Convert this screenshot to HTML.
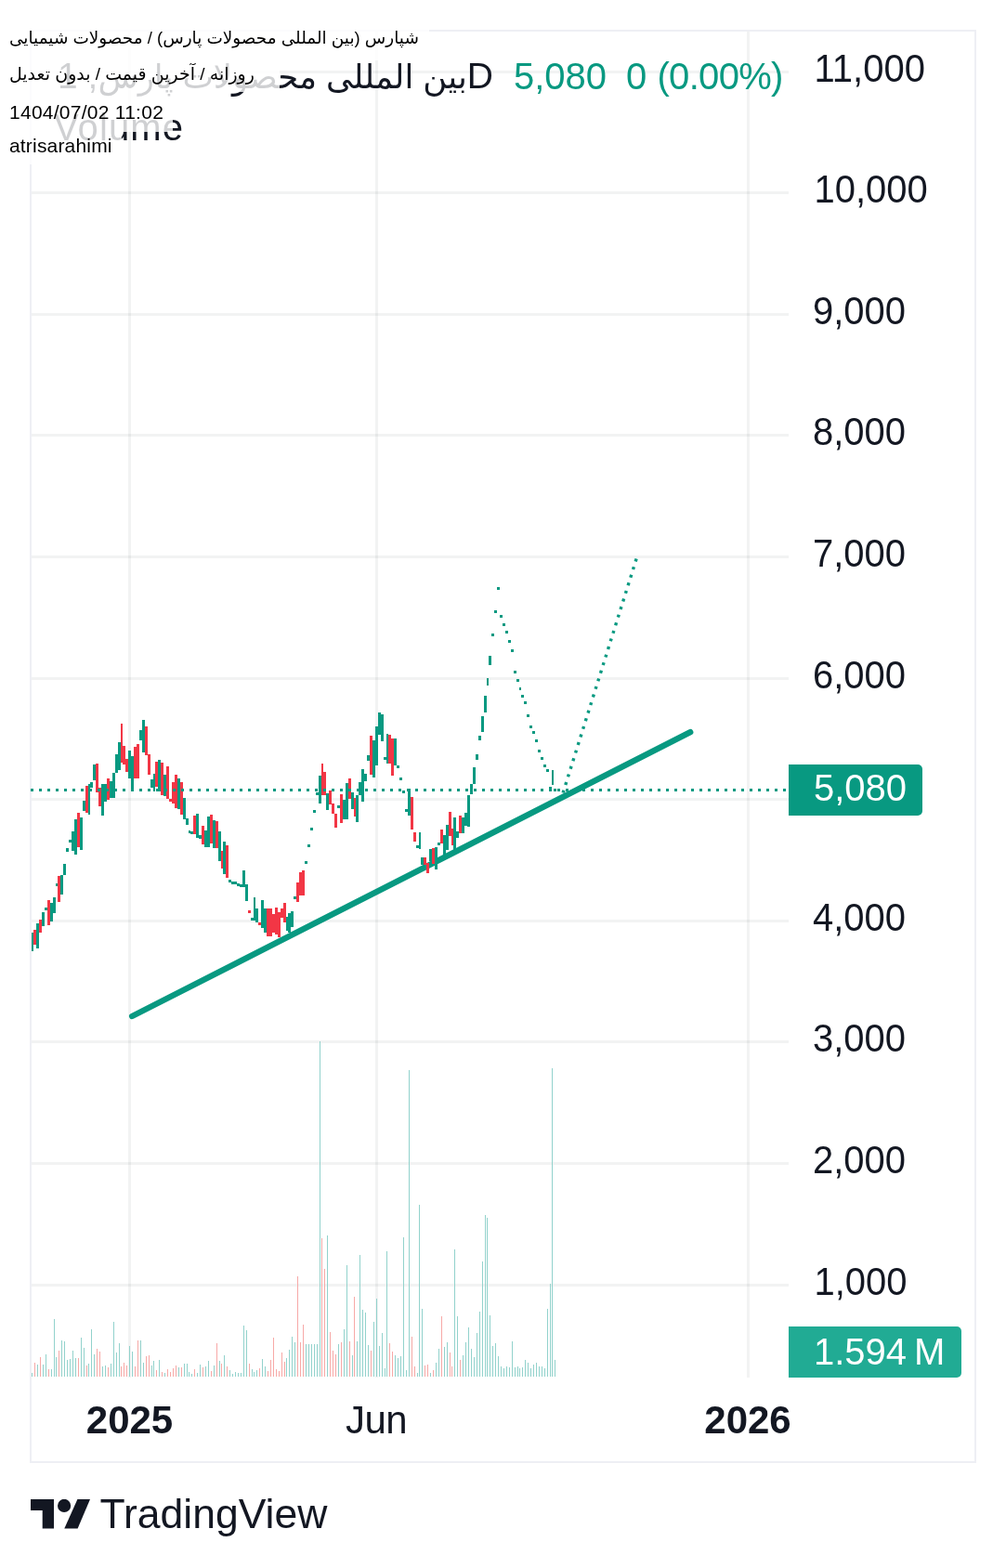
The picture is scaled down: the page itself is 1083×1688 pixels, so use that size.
<!DOCTYPE html>
<html lang="fa">
<head>
<meta charset="utf-8">
<title>TradingView chart</title>
<style>
html,body{margin:0;padding:0;background:#fff;}
body{width:1083px;height:1688px;position:relative;overflow:hidden;font-family:"Liberation Sans","DejaVu Sans",sans-serif;color:#131722;}
#frame{position:absolute;left:32px;top:32px;width:1015px;height:1539px;border:2px solid #eeeff4;}
svg{position:absolute;left:0;top:0;}
.pl{position:absolute;left:875px;font-size:40px;line-height:50px;letter-spacing:0px;white-space:nowrap;transform:scaleY(1.04);transform-origin:0 38.9px;}
.tl{position:absolute;top:1503.8px;font-size:42px;letter-spacing:-0.6px;line-height:50px;white-space:nowrap;transform:translateX(-50%);}
.b{font-weight:bold;font-size:42px;letter-spacing:0;}
.ar{font-size:35.5px;}
#title{position:absolute;left:62px;top:56px;font-size:39px;line-height:52px;white-space:nowrap;direction:ltr;}
#vol{position:absolute;left:58px;top:111px;font-size:40px;line-height:52px;letter-spacing:1.1px;white-space:nowrap;}
.q{position:absolute;top:56px;font-size:40px;line-height:52px;white-space:pre;color:#089981;}
#ptag{position:absolute;left:849px;top:823px;width:144px;height:55px;background:#089981;border-radius:0 5px 5px 0;color:#fff;font-size:40px;line-height:51px;letter-spacing:0;}
#ptag span{position:absolute;left:27px;top:0;}
#vtag{position:absolute;left:849px;top:1428px;width:186px;height:55px;background:#21ab94;border-radius:0 5px 5px 0;color:#fff;font-size:40px;line-height:55px;letter-spacing:0;}
#vtag span{position:absolute;left:27px;top:0;white-space:nowrap;}
.ov{position:absolute;left:0;background:rgba(255,255,255,0.8);color:#000;font-size:21px;white-space:nowrap;padding-left:10px;box-sizing:border-box;}
#logo{position:absolute;left:33px;top:1614px;}
#brand{position:absolute;left:107.5px;top:1605.2px;font-size:44.5px;line-height:50px;letter-spacing:0px;white-space:nowrap;}
</style>
</head>
<body>
<div id="frame"></div>
<svg width="1083" height="1688" viewBox="0 0 1083 1688">
<g shape-rendering="crispEdges">
<rect x="34" y="1382" width="815" height="3" fill="rgba(42,46,57,0.06)"/>
<rect x="34" y="1251" width="815" height="3" fill="rgba(42,46,57,0.06)"/>
<rect x="34" y="1120" width="815" height="3" fill="rgba(42,46,57,0.06)"/>
<rect x="34" y="990" width="815" height="3" fill="rgba(42,46,57,0.06)"/>
<rect x="34" y="859" width="815" height="3" fill="rgba(42,46,57,0.06)"/>
<rect x="34" y="729" width="815" height="3" fill="rgba(42,46,57,0.06)"/>
<rect x="34" y="598" width="815" height="3" fill="rgba(42,46,57,0.06)"/>
<rect x="34" y="467" width="815" height="3" fill="rgba(42,46,57,0.06)"/>
<rect x="34" y="337" width="815" height="3" fill="rgba(42,46,57,0.06)"/>
<rect x="34" y="206" width="815" height="3" fill="rgba(42,46,57,0.06)"/>
<rect x="34" y="76" width="815" height="3" fill="rgba(42,46,57,0.06)"/>
<rect x="138" y="34" width="3" height="1449" fill="rgba(42,46,57,0.06)"/>
<rect x="404" y="34" width="3" height="1449" fill="rgba(42,46,57,0.06)"/>
<rect x="804" y="34" width="3" height="1449" fill="rgba(42,46,57,0.06)"/>
<rect x="34" y="1478" width="1" height="4" fill="#92d2cc"/>
<rect x="37" y="1467" width="1" height="15" fill="#f7a9a7"/>
<rect x="40" y="1469" width="1" height="13" fill="#92d2cc"/>
<rect x="43" y="1461" width="1" height="21" fill="#f7a9a7"/>
<rect x="46" y="1469" width="1" height="13" fill="#92d2cc"/>
<rect x="49" y="1458" width="1" height="24" fill="#92d2cc"/>
<rect x="52" y="1474" width="1" height="8" fill="#f7a9a7"/>
<rect x="55" y="1474" width="1" height="8" fill="#92d2cc"/>
<rect x="58" y="1420" width="1" height="62" fill="#92d2cc"/>
<rect x="60" y="1461" width="1" height="21" fill="#92d2cc"/>
<rect x="63" y="1454" width="1" height="28" fill="#f7a9a7"/>
<rect x="66" y="1443" width="1" height="39" fill="#92d2cc"/>
<rect x="69" y="1444" width="1" height="38" fill="#92d2cc"/>
<rect x="72" y="1464" width="1" height="18" fill="#92d2cc"/>
<rect x="75" y="1463" width="1" height="19" fill="#92d2cc"/>
<rect x="78" y="1454" width="1" height="28" fill="#92d2cc"/>
<rect x="81" y="1462" width="1" height="20" fill="#92d2cc"/>
<rect x="84" y="1462" width="1" height="20" fill="#f7a9a7"/>
<rect x="87" y="1440" width="1" height="42" fill="#92d2cc"/>
<rect x="90" y="1451" width="1" height="31" fill="#92d2cc"/>
<rect x="93" y="1470" width="1" height="12" fill="#f7a9a7"/>
<rect x="95" y="1468" width="1" height="14" fill="#92d2cc"/>
<rect x="98" y="1431" width="1" height="51" fill="#92d2cc"/>
<rect x="101" y="1458" width="1" height="24" fill="#92d2cc"/>
<rect x="104" y="1452" width="1" height="30" fill="#f7a9a7"/>
<rect x="107" y="1455" width="1" height="27" fill="#f7a9a7"/>
<rect x="110" y="1471" width="1" height="11" fill="#92d2cc"/>
<rect x="113" y="1470" width="1" height="12" fill="#92d2cc"/>
<rect x="116" y="1472" width="1" height="10" fill="#f7a9a7"/>
<rect x="119" y="1468" width="1" height="14" fill="#92d2cc"/>
<rect x="122" y="1423" width="1" height="59" fill="#92d2cc"/>
<rect x="125" y="1456" width="1" height="26" fill="#92d2cc"/>
<rect x="128" y="1446" width="1" height="36" fill="#92d2cc"/>
<rect x="130" y="1471" width="1" height="11" fill="#f7a9a7"/>
<rect x="133" y="1467" width="1" height="15" fill="#f7a9a7"/>
<rect x="136" y="1470" width="1" height="12" fill="#f7a9a7"/>
<rect x="139" y="1449" width="1" height="33" fill="#92d2cc"/>
<rect x="142" y="1455" width="1" height="27" fill="#92d2cc"/>
<rect x="145" y="1471" width="1" height="11" fill="#f7a9a7"/>
<rect x="148" y="1443" width="1" height="39" fill="#f7a9a7"/>
<rect x="151" y="1443" width="1" height="39" fill="#92d2cc"/>
<rect x="154" y="1467" width="1" height="15" fill="#92d2cc"/>
<rect x="157" y="1460" width="1" height="22" fill="#f7a9a7"/>
<rect x="160" y="1459" width="1" height="23" fill="#f7a9a7"/>
<rect x="163" y="1470" width="1" height="12" fill="#92d2cc"/>
<rect x="165" y="1465" width="1" height="17" fill="#92d2cc"/>
<rect x="168" y="1475" width="1" height="7" fill="#f7a9a7"/>
<rect x="171" y="1464" width="1" height="18" fill="#92d2cc"/>
<rect x="174" y="1477" width="1" height="5" fill="#f7a9a7"/>
<rect x="177" y="1478" width="1" height="4" fill="#92d2cc"/>
<rect x="180" y="1474" width="1" height="8" fill="#f7a9a7"/>
<rect x="183" y="1477" width="1" height="5" fill="#f7a9a7"/>
<rect x="186" y="1473" width="1" height="9" fill="#f7a9a7"/>
<rect x="189" y="1470" width="1" height="12" fill="#f7a9a7"/>
<rect x="192" y="1472" width="1" height="10" fill="#92d2cc"/>
<rect x="195" y="1472" width="1" height="10" fill="#f7a9a7"/>
<rect x="198" y="1468" width="1" height="14" fill="#92d2cc"/>
<rect x="201" y="1468" width="1" height="14" fill="#92d2cc"/>
<rect x="203" y="1477" width="1" height="5" fill="#92d2cc"/>
<rect x="206" y="1479" width="1" height="3" fill="#92d2cc"/>
<rect x="209" y="1474" width="1" height="8" fill="#f7a9a7"/>
<rect x="212" y="1478" width="1" height="4" fill="#92d2cc"/>
<rect x="215" y="1469" width="1" height="13" fill="#92d2cc"/>
<rect x="218" y="1472" width="1" height="10" fill="#f7a9a7"/>
<rect x="221" y="1471" width="1" height="11" fill="#92d2cc"/>
<rect x="224" y="1465" width="1" height="17" fill="#92d2cc"/>
<rect x="227" y="1476" width="1" height="6" fill="#f7a9a7"/>
<rect x="230" y="1470" width="1" height="12" fill="#92d2cc"/>
<rect x="233" y="1446" width="1" height="36" fill="#f7a9a7"/>
<rect x="236" y="1465" width="1" height="17" fill="#92d2cc"/>
<rect x="238" y="1468" width="1" height="14" fill="#f7a9a7"/>
<rect x="241" y="1459" width="1" height="23" fill="#92d2cc"/>
<rect x="244" y="1471" width="1" height="11" fill="#f7a9a7"/>
<rect x="247" y="1475" width="1" height="7" fill="#92d2cc"/>
<rect x="250" y="1479" width="1" height="3" fill="#92d2cc"/>
<rect x="253" y="1477" width="1" height="5" fill="#92d2cc"/>
<rect x="256" y="1478" width="1" height="4" fill="#92d2cc"/>
<rect x="259" y="1478" width="1" height="4" fill="#92d2cc"/>
<rect x="262" y="1427" width="1" height="55" fill="#92d2cc"/>
<rect x="265" y="1432" width="1" height="50" fill="#92d2cc"/>
<rect x="268" y="1468" width="1" height="14" fill="#f7a9a7"/>
<rect x="271" y="1474" width="1" height="8" fill="#92d2cc"/>
<rect x="273" y="1477" width="1" height="5" fill="#92d2cc"/>
<rect x="276" y="1475" width="1" height="7" fill="#92d2cc"/>
<rect x="279" y="1473" width="1" height="9" fill="#f7a9a7"/>
<rect x="282" y="1463" width="1" height="19" fill="#92d2cc"/>
<rect x="285" y="1471" width="1" height="11" fill="#92d2cc"/>
<rect x="288" y="1476" width="1" height="6" fill="#f7a9a7"/>
<rect x="291" y="1464" width="1" height="18" fill="#f7a9a7"/>
<rect x="294" y="1440" width="1" height="42" fill="#f7a9a7"/>
<rect x="297" y="1474" width="1" height="8" fill="#f7a9a7"/>
<rect x="300" y="1476" width="1" height="6" fill="#f7a9a7"/>
<rect x="303" y="1456" width="1" height="26" fill="#f7a9a7"/>
<rect x="306" y="1466" width="1" height="16" fill="#f7a9a7"/>
<rect x="308" y="1462" width="1" height="20" fill="#92d2cc"/>
<rect x="311" y="1453" width="1" height="29" fill="#92d2cc"/>
<rect x="314" y="1439" width="1" height="43" fill="#92d2cc"/>
<rect x="317" y="1445" width="1" height="37" fill="#92d2cc"/>
<rect x="320" y="1374" width="1" height="108" fill="#f7a9a7"/>
<rect x="323" y="1445" width="1" height="37" fill="#f7a9a7"/>
<rect x="326" y="1426" width="1" height="56" fill="#f7a9a7"/>
<rect x="329" y="1447" width="1" height="35" fill="#92d2cc"/>
<rect x="332" y="1447" width="1" height="35" fill="#92d2cc"/>
<rect x="335" y="1447" width="1" height="35" fill="#92d2cc"/>
<rect x="338" y="1447" width="1" height="35" fill="#92d2cc"/>
<rect x="341" y="1447" width="1" height="35" fill="#92d2cc"/>
<rect x="344" y="1121" width="1" height="361" fill="#92d2cc"/>
<rect x="346" y="1333" width="1" height="149" fill="#f7a9a7"/>
<rect x="349" y="1366" width="1" height="116" fill="#f7a9a7"/>
<rect x="352" y="1330" width="1" height="152" fill="#92d2cc"/>
<rect x="355" y="1434" width="1" height="48" fill="#f7a9a7"/>
<rect x="358" y="1454" width="1" height="28" fill="#f7a9a7"/>
<rect x="361" y="1458" width="1" height="24" fill="#f7a9a7"/>
<rect x="364" y="1447" width="1" height="35" fill="#92d2cc"/>
<rect x="367" y="1445" width="1" height="37" fill="#f7a9a7"/>
<rect x="370" y="1431" width="1" height="51" fill="#92d2cc"/>
<rect x="373" y="1362" width="1" height="120" fill="#92d2cc"/>
<rect x="376" y="1444" width="1" height="38" fill="#f7a9a7"/>
<rect x="379" y="1459" width="1" height="23" fill="#92d2cc"/>
<rect x="381" y="1396" width="1" height="86" fill="#f7a9a7"/>
<rect x="384" y="1444" width="1" height="38" fill="#92d2cc"/>
<rect x="387" y="1351" width="1" height="131" fill="#92d2cc"/>
<rect x="390" y="1410" width="1" height="72" fill="#92d2cc"/>
<rect x="393" y="1413" width="1" height="69" fill="#92d2cc"/>
<rect x="396" y="1448" width="1" height="34" fill="#92d2cc"/>
<rect x="399" y="1454" width="1" height="28" fill="#f7a9a7"/>
<rect x="402" y="1423" width="1" height="59" fill="#92d2cc"/>
<rect x="405" y="1398" width="1" height="84" fill="#92d2cc"/>
<rect x="408" y="1449" width="1" height="33" fill="#92d2cc"/>
<rect x="411" y="1435" width="1" height="47" fill="#92d2cc"/>
<rect x="414" y="1473" width="1" height="9" fill="#92d2cc"/>
<rect x="416" y="1347" width="1" height="135" fill="#92d2cc"/>
<rect x="419" y="1446" width="1" height="36" fill="#f7a9a7"/>
<rect x="422" y="1455" width="1" height="27" fill="#f7a9a7"/>
<rect x="425" y="1459" width="1" height="23" fill="#92d2cc"/>
<rect x="428" y="1462" width="1" height="20" fill="#92d2cc"/>
<rect x="431" y="1460" width="1" height="22" fill="#92d2cc"/>
<rect x="434" y="1332" width="1" height="150" fill="#92d2cc"/>
<rect x="437" y="1475" width="1" height="7" fill="#92d2cc"/>
<rect x="440" y="1152" width="1" height="330" fill="#92d2cc"/>
<rect x="443" y="1439" width="1" height="43" fill="#f7a9a7"/>
<rect x="446" y="1471" width="1" height="11" fill="#f7a9a7"/>
<rect x="449" y="1478" width="1" height="4" fill="#92d2cc"/>
<rect x="451" y="1297" width="1" height="185" fill="#92d2cc"/>
<rect x="454" y="1409" width="1" height="73" fill="#92d2cc"/>
<rect x="457" y="1470" width="1" height="12" fill="#f7a9a7"/>
<rect x="460" y="1469" width="1" height="13" fill="#f7a9a7"/>
<rect x="463" y="1478" width="1" height="4" fill="#92d2cc"/>
<rect x="466" y="1475" width="1" height="7" fill="#f7a9a7"/>
<rect x="469" y="1467" width="1" height="15" fill="#92d2cc"/>
<rect x="472" y="1452" width="1" height="30" fill="#92d2cc"/>
<rect x="475" y="1417" width="1" height="65" fill="#f7a9a7"/>
<rect x="478" y="1450" width="1" height="32" fill="#92d2cc"/>
<rect x="481" y="1445" width="1" height="37" fill="#92d2cc"/>
<rect x="484" y="1456" width="1" height="26" fill="#f7a9a7"/>
<rect x="486" y="1471" width="1" height="11" fill="#f7a9a7"/>
<rect x="489" y="1345" width="1" height="137" fill="#92d2cc"/>
<rect x="492" y="1417" width="1" height="65" fill="#92d2cc"/>
<rect x="495" y="1464" width="1" height="18" fill="#f7a9a7"/>
<rect x="498" y="1459" width="1" height="23" fill="#92d2cc"/>
<rect x="501" y="1445" width="1" height="37" fill="#92d2cc"/>
<rect x="504" y="1429" width="1" height="53" fill="#92d2cc"/>
<rect x="507" y="1452" width="1" height="30" fill="#92d2cc"/>
<rect x="510" y="1461" width="1" height="21" fill="#92d2cc"/>
<rect x="513" y="1435" width="1" height="47" fill="#92d2cc"/>
<rect x="516" y="1412" width="1" height="70" fill="#92d2cc"/>
<rect x="519" y="1358" width="1" height="124" fill="#92d2cc"/>
<rect x="522" y="1308" width="1" height="174" fill="#92d2cc"/>
<rect x="524" y="1311" width="1" height="171" fill="#92d2cc"/>
<rect x="527" y="1416" width="1" height="66" fill="#92d2cc"/>
<rect x="530" y="1449" width="1" height="33" fill="#92d2cc"/>
<rect x="533" y="1446" width="1" height="36" fill="#92d2cc"/>
<rect x="536" y="1460" width="1" height="22" fill="#92d2cc"/>
<rect x="539" y="1471" width="1" height="11" fill="#92d2cc"/>
<rect x="542" y="1473" width="1" height="9" fill="#92d2cc"/>
<rect x="545" y="1471" width="1" height="11" fill="#92d2cc"/>
<rect x="548" y="1472" width="1" height="10" fill="#92d2cc"/>
<rect x="551" y="1444" width="1" height="38" fill="#92d2cc"/>
<rect x="554" y="1472" width="1" height="10" fill="#92d2cc"/>
<rect x="557" y="1471" width="1" height="11" fill="#92d2cc"/>
<rect x="559" y="1473" width="1" height="9" fill="#92d2cc"/>
<rect x="562" y="1472" width="1" height="10" fill="#92d2cc"/>
<rect x="565" y="1464" width="1" height="18" fill="#92d2cc"/>
<rect x="568" y="1467" width="1" height="15" fill="#92d2cc"/>
<rect x="571" y="1473" width="1" height="9" fill="#92d2cc"/>
<rect x="574" y="1469" width="1" height="13" fill="#92d2cc"/>
<rect x="577" y="1467" width="1" height="15" fill="#92d2cc"/>
<rect x="580" y="1471" width="1" height="11" fill="#92d2cc"/>
<rect x="583" y="1471" width="1" height="11" fill="#92d2cc"/>
<rect x="586" y="1473" width="1" height="9" fill="#92d2cc"/>
<rect x="589" y="1409" width="1" height="73" fill="#92d2cc"/>
<rect x="592" y="1382" width="1" height="100" fill="#92d2cc"/>
<rect x="594" y="1150" width="1" height="332" fill="#92d2cc"/>
<rect x="597" y="1464" width="1" height="18" fill="#92d2cc"/>
</g>
<g>
<line x1="142.2" y1="1094" x2="743.2" y2="788.1" stroke="#089981" stroke-width="6.4" stroke-linecap="round"/>
<line x1="606.1" y1="853.5" x2="685.1" y2="601.6" stroke="#089981" stroke-width="3.4" stroke-dasharray="3 6"/>
</g>
<g shape-rendering="crispEdges">
<rect x="34" y="1004" width="2" height="20" fill="#089981"/>
<rect x="36" y="1001" width="3" height="16" fill="#f23645"/>
<rect x="39" y="994" width="3" height="27" fill="#089981"/>
<rect x="42" y="990" width="3" height="14" fill="#f23645"/>
<rect x="45" y="982" width="3" height="15" fill="#089981"/>
<rect x="48" y="977" width="3" height="3" fill="#089981"/>
<rect x="51" y="969" width="3" height="27" fill="#f23645"/>
<rect x="54" y="972" width="3" height="20" fill="#089981"/>
<rect x="57" y="966" width="3" height="17" fill="#089981"/>
<rect x="60" y="951" width="2" height="3" fill="#089981"/>
<rect x="62" y="943" width="3" height="28" fill="#f23645"/>
<rect x="65" y="942" width="3" height="21" fill="#089981"/>
<rect x="68" y="930" width="3" height="12" fill="#089981"/>
<rect x="71" y="913" width="3" height="4" fill="#089981"/>
<rect x="74" y="904" width="3" height="3" fill="#089981"/>
<rect x="77" y="895" width="3" height="21" fill="#089981"/>
<rect x="80" y="882" width="3" height="38" fill="#089981"/>
<rect x="83" y="875" width="3" height="37" fill="#f23645"/>
<rect x="86" y="880" width="3" height="35" fill="#089981"/>
<rect x="89" y="862" width="3" height="11" fill="#089981"/>
<rect x="92" y="846" width="3" height="29" fill="#f23645"/>
<rect x="95" y="844" width="2" height="33" fill="#089981"/>
<rect x="97" y="842" width="3" height="6" fill="#089981"/>
<rect x="100" y="823" width="3" height="17" fill="#089981"/>
<rect x="103" y="822" width="3" height="31" fill="#f23645"/>
<rect x="106" y="848" width="3" height="20" fill="#f23645"/>
<rect x="109" y="844" width="3" height="34" fill="#089981"/>
<rect x="112" y="844" width="3" height="19" fill="#089981"/>
<rect x="115" y="838" width="3" height="23" fill="#f23645"/>
<rect x="118" y="841" width="3" height="18" fill="#089981"/>
<rect x="121" y="832" width="3" height="27" fill="#089981"/>
<rect x="124" y="812" width="3" height="20" fill="#089981"/>
<rect x="127" y="799" width="3" height="30" fill="#089981"/>
<rect x="130" y="779" width="2" height="42" fill="#f23645"/>
<rect x="132" y="803" width="3" height="20" fill="#f23645"/>
<rect x="135" y="817" width="3" height="14" fill="#f23645"/>
<rect x="138" y="808" width="3" height="30" fill="#089981"/>
<rect x="141" y="814" width="3" height="38" fill="#089981"/>
<rect x="144" y="804" width="3" height="34" fill="#f23645"/>
<rect x="147" y="801" width="3" height="37" fill="#f23645"/>
<rect x="150" y="786" width="3" height="11" fill="#089981"/>
<rect x="153" y="775" width="3" height="35" fill="#089981"/>
<rect x="156" y="782" width="3" height="31" fill="#f23645"/>
<rect x="159" y="812" width="3" height="22" fill="#f23645"/>
<rect x="162" y="839" width="3" height="9" fill="#089981"/>
<rect x="165" y="833" width="2" height="19" fill="#089981"/>
<rect x="167" y="820" width="3" height="27" fill="#f23645"/>
<rect x="170" y="818" width="3" height="34" fill="#089981"/>
<rect x="173" y="821" width="3" height="35" fill="#f23645"/>
<rect x="176" y="834" width="3" height="23" fill="#089981"/>
<rect x="179" y="825" width="3" height="35" fill="#f23645"/>
<rect x="182" y="860" width="3" height="3" fill="#f23645"/>
<rect x="185" y="842" width="3" height="23" fill="#f23645"/>
<rect x="188" y="834" width="3" height="36" fill="#f23645"/>
<rect x="191" y="838" width="3" height="33" fill="#089981"/>
<rect x="194" y="842" width="3" height="35" fill="#f23645"/>
<rect x="197" y="859" width="3" height="23" fill="#089981"/>
<rect x="200" y="881" width="3" height="7" fill="#089981"/>
<rect x="203" y="894" width="2" height="3" fill="#089981"/>
<rect x="205" y="895" width="3" height="3" fill="#089981"/>
<rect x="208" y="878" width="3" height="20" fill="#f23645"/>
<rect x="211" y="876" width="3" height="26" fill="#089981"/>
<rect x="214" y="899" width="3" height="4" fill="#089981"/>
<rect x="217" y="889" width="3" height="20" fill="#f23645"/>
<rect x="220" y="894" width="3" height="18" fill="#089981"/>
<rect x="223" y="879" width="3" height="33" fill="#089981"/>
<rect x="226" y="877" width="3" height="31" fill="#f23645"/>
<rect x="229" y="883" width="3" height="30" fill="#089981"/>
<rect x="232" y="884" width="3" height="29" fill="#f23645"/>
<rect x="235" y="895" width="3" height="32" fill="#089981"/>
<rect x="238" y="916" width="2" height="19" fill="#f23645"/>
<rect x="240" y="906" width="3" height="35" fill="#089981"/>
<rect x="243" y="910" width="3" height="35" fill="#f23645"/>
<rect x="246" y="947" width="3" height="3" fill="#089981"/>
<rect x="249" y="949" width="3" height="3" fill="#089981"/>
<rect x="252" y="949" width="3" height="3" fill="#089981"/>
<rect x="255" y="951" width="3" height="3" fill="#089981"/>
<rect x="258" y="952" width="3" height="3" fill="#089981"/>
<rect x="261" y="937" width="3" height="18" fill="#089981"/>
<rect x="264" y="952" width="3" height="18" fill="#089981"/>
<rect x="267" y="980" width="3" height="3" fill="#f23645"/>
<rect x="270" y="988" width="3" height="3" fill="#089981"/>
<rect x="273" y="966" width="2" height="25" fill="#089981"/>
<rect x="275" y="978" width="3" height="15" fill="#089981"/>
<rect x="278" y="993" width="3" height="3" fill="#f23645"/>
<rect x="281" y="969" width="3" height="30" fill="#089981"/>
<rect x="284" y="978" width="3" height="26" fill="#089981"/>
<rect x="287" y="978" width="3" height="30" fill="#f23645"/>
<rect x="290" y="978" width="3" height="30" fill="#f23645"/>
<rect x="293" y="984" width="3" height="20" fill="#f23645"/>
<rect x="296" y="977" width="3" height="29" fill="#f23645"/>
<rect x="299" y="982" width="3" height="27" fill="#f23645"/>
<rect x="302" y="978" width="3" height="10" fill="#f23645"/>
<rect x="305" y="972" width="3" height="21" fill="#f23645"/>
<rect x="308" y="987" width="2" height="15" fill="#089981"/>
<rect x="310" y="983" width="3" height="21" fill="#089981"/>
<rect x="313" y="981" width="3" height="17" fill="#089981"/>
<rect x="316" y="965" width="3" height="3" fill="#089981"/>
<rect x="319" y="950" width="3" height="21" fill="#f23645"/>
<rect x="322" y="939" width="3" height="25" fill="#f23645"/>
<rect x="325" y="937" width="3" height="27" fill="#f23645"/>
<rect x="328" y="927" width="3" height="3" fill="#089981"/>
<rect x="331" y="909" width="3" height="3" fill="#089981"/>
<rect x="334" y="891" width="3" height="3" fill="#089981"/>
<rect x="337" y="872" width="3" height="3" fill="#089981"/>
<rect x="340" y="853" width="3" height="3" fill="#089981"/>
<rect x="343" y="835" width="3" height="30" fill="#089981"/>
<rect x="346" y="822" width="2" height="34" fill="#f23645"/>
<rect x="348" y="831" width="3" height="25" fill="#f23645"/>
<rect x="351" y="854" width="3" height="18" fill="#089981"/>
<rect x="354" y="851" width="3" height="15" fill="#f23645"/>
<rect x="357" y="865" width="3" height="11" fill="#f23645"/>
<rect x="360" y="876" width="3" height="15" fill="#f23645"/>
<rect x="363" y="867" width="3" height="3" fill="#089981"/>
<rect x="366" y="855" width="3" height="31" fill="#f23645"/>
<rect x="369" y="861" width="3" height="21" fill="#089981"/>
<rect x="372" y="843" width="3" height="39" fill="#089981"/>
<rect x="375" y="838" width="3" height="22" fill="#f23645"/>
<rect x="378" y="853" width="3" height="18" fill="#089981"/>
<rect x="381" y="859" width="2" height="20" fill="#f23645"/>
<rect x="383" y="856" width="3" height="29" fill="#089981"/>
<rect x="386" y="842" width="3" height="14" fill="#089981"/>
<rect x="389" y="828" width="3" height="35" fill="#089981"/>
<rect x="392" y="833" width="3" height="8" fill="#089981"/>
<rect x="395" y="813" width="3" height="6" fill="#089981"/>
<rect x="398" y="792" width="3" height="42" fill="#f23645"/>
<rect x="401" y="797" width="3" height="40" fill="#089981"/>
<rect x="404" y="782" width="3" height="42" fill="#089981"/>
<rect x="407" y="767" width="3" height="24" fill="#089981"/>
<rect x="410" y="769" width="3" height="29" fill="#089981"/>
<rect x="413" y="815" width="3" height="3" fill="#089981"/>
<rect x="416" y="790" width="2" height="32" fill="#089981"/>
<rect x="418" y="791" width="3" height="31" fill="#f23645"/>
<rect x="421" y="795" width="3" height="40" fill="#f23645"/>
<rect x="424" y="795" width="3" height="29" fill="#089981"/>
<rect x="427" y="824" width="3" height="3" fill="#089981"/>
<rect x="430" y="837" width="3" height="3" fill="#089981"/>
<rect x="433" y="851" width="3" height="3" fill="#089981"/>
<rect x="436" y="871" width="3" height="3" fill="#089981"/>
<rect x="439" y="849" width="3" height="29" fill="#089981"/>
<rect x="442" y="858" width="3" height="35" fill="#f23645"/>
<rect x="445" y="896" width="3" height="10" fill="#f23645"/>
<rect x="448" y="910" width="3" height="3" fill="#089981"/>
<rect x="451" y="896" width="2" height="18" fill="#089981"/>
<rect x="453" y="923" width="3" height="8" fill="#089981"/>
<rect x="456" y="923" width="3" height="8" fill="#f23645"/>
<rect x="459" y="929" width="3" height="11" fill="#f23645"/>
<rect x="462" y="914" width="3" height="13" fill="#089981"/>
<rect x="465" y="913" width="3" height="17" fill="#f23645"/>
<rect x="468" y="912" width="3" height="24" fill="#089981"/>
<rect x="471" y="907" width="3" height="3" fill="#089981"/>
<rect x="474" y="893" width="3" height="15" fill="#f23645"/>
<rect x="477" y="899" width="3" height="21" fill="#089981"/>
<rect x="480" y="888" width="3" height="27" fill="#089981"/>
<rect x="483" y="874" width="3" height="26" fill="#f23645"/>
<rect x="486" y="892" width="2" height="18" fill="#f23645"/>
<rect x="488" y="880" width="3" height="35" fill="#089981"/>
<rect x="491" y="895" width="3" height="7" fill="#089981"/>
<rect x="494" y="878" width="3" height="19" fill="#f23645"/>
<rect x="497" y="880" width="3" height="17" fill="#089981"/>
<rect x="500" y="875" width="3" height="14" fill="#089981"/>
<rect x="503" y="856" width="3" height="34" fill="#089981"/>
<rect x="506" y="844" width="3" height="11" fill="#089981"/>
<rect x="509" y="826" width="3" height="18" fill="#089981"/>
<rect x="512" y="812" width="3" height="6" fill="#089981"/>
<rect x="515" y="792" width="3" height="5" fill="#089981"/>
<rect x="518" y="771" width="3" height="17" fill="#089981"/>
<rect x="521" y="749" width="3" height="18" fill="#089981"/>
<rect x="524" y="730" width="2" height="8" fill="#089981"/>
<rect x="526" y="706" width="3" height="10" fill="#089981"/>
<rect x="529" y="682" width="3" height="3" fill="#089981"/>
<rect x="532" y="657" width="3" height="3" fill="#089981"/>
<rect x="535" y="632" width="3" height="3" fill="#089981"/>
<rect x="538" y="662" width="3" height="3" fill="#089981"/>
<rect x="541" y="671" width="3" height="3" fill="#089981"/>
<rect x="544" y="679" width="3" height="3" fill="#089981"/>
<rect x="547" y="689" width="3" height="3" fill="#089981"/>
<rect x="550" y="699" width="3" height="3" fill="#089981"/>
<rect x="553" y="722" width="3" height="3" fill="#089981"/>
<rect x="556" y="731" width="3" height="3" fill="#089981"/>
<rect x="559" y="740" width="2" height="3" fill="#089981"/>
<rect x="561" y="748" width="3" height="3" fill="#089981"/>
<rect x="564" y="755" width="3" height="3" fill="#089981"/>
<rect x="567" y="769" width="3" height="3" fill="#089981"/>
<rect x="570" y="781" width="3" height="3" fill="#089981"/>
<rect x="573" y="787" width="3" height="3" fill="#089981"/>
<rect x="576" y="796" width="3" height="3" fill="#089981"/>
<rect x="579" y="807" width="3" height="3" fill="#089981"/>
<rect x="582" y="815" width="3" height="3" fill="#089981"/>
<rect x="585" y="823" width="3" height="3" fill="#089981"/>
<rect x="588" y="828" width="3" height="3" fill="#089981"/>
<rect x="591" y="847" width="3" height="5" fill="#089981"/>
<rect x="594" y="829" width="2" height="16" fill="#089981"/>
<rect x="596" y="849" width="3" height="3" fill="#089981"/>
<line x1="33" y1="850.5" x2="849" y2="850.5" stroke="#089981" stroke-width="3" stroke-dasharray="3 6"/>
</g>
</svg>
<div class="pl" style="top:1354.5px;left:876.5px">1,000</div>
<div class="pl" style="top:1223.5px">2,000</div>
<div class="pl" style="top:1092.5px">3,000</div>
<div class="pl" style="top:962.5px">4,000</div>
<div class="pl" style="top:701.5px">6,000</div>
<div class="pl" style="top:570.5px">7,000</div>
<div class="pl" style="top:439.5px">8,000</div>
<div class="pl" style="top:309.5px">9,000</div>
<div class="pl" style="top:178.5px;left:876.5px">10,000</div>
<div class="pl" style="top:48.5px;left:876.5px">11,000</div>
<div id="ptag"><span>5,080</span></div>
<div id="vtag"><span>1.594&#8201;M</span></div>
<div class="tl b" style="left:139.5px">2025</div>
<div class="tl" style="left:405px">Jun</div>
<div class="tl b" style="left:805px">2026</div>
<div id="title"><span class="ar">بین المللی محصولات پارس</span>, 1D</div>
<div id="vol">Volume</div>
<div class="q" style="left:553px">5,080</div><div class="q" style="left:674px">0</div><div class="q" style="left:707.5px;letter-spacing:-0.7px">(0.00%)</div>
<div class="ov" style="top:18px;width:462px;height:47px;line-height:46px;font-size:18.45px;"><span>شپارس (بین المللی محصولات پارس) / محصولات شیمیایی</span></div>
<div class="ov" style="top:65px;width:301px;height:34px;line-height:30px;font-size:18.95px;"><span>روزانه / آخرین قیمت / بدون تعدیل</span></div>
<div class="ov" style="top:99px;width:186px;height:43px;line-height:44px;letter-spacing:0.26px;"><span>1404/07/02 11:02</span></div>
<div class="ov" style="top:142px;width:131px;height:35px;line-height:30px;letter-spacing:0.18px;"><span>atrisarahimi</span></div>
<svg id="logo" width="64" height="32" viewBox="0 0 64 32" style="left:33px;top:1614px;">
<path fill="#131722" d="M0 0H25V31.4H12.7V12H0Z"/>
<circle fill="#131722" cx="36.1" cy="6.9" r="7.1"/>
<path fill="#131722" d="M50.4 0H64L50.6 31.4H36.3Z"/>
</svg>
<div id="brand">TradingView</div>
</body>
</html>
